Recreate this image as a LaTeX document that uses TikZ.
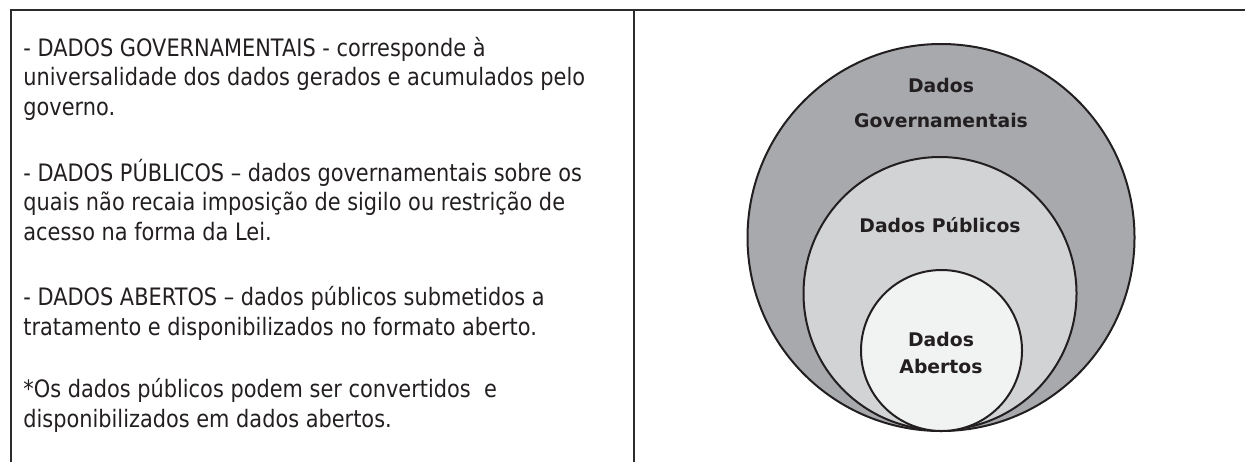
\documentclass[tikz,border=0pt]{standalone}
\usepackage{fontspec}
\setmainfont{DejaVu Sans}[FakeStretch=0.87]
\newfontfamily\setfont{DejaVu Sans}
\definecolor{govgray}{HTML}{A7A9AC}
\definecolor{pubgray}{HTML}{D1D3D4}
\definecolor{abegray}{HTML}{F1F2F2}
\definecolor{rulegray}{HTML}{2B2B2B}
\definecolor{inkgray}{HTML}{231F20}
\tikzset{
  deftext/.style={anchor=base west,align=left,inner sep=0pt,text=inkgray,
    font=\fontsize{12}{14.75}\selectfont},
  setlabel/.style={anchor=base,align=center,inner sep=0pt,text=inkgray,
    font=\setfont\bfseries\fontsize{9.4}{#1}\selectfont},
  setlabel/.default=13.5,
  setcircle/.style={circle,draw=inkgray,line width=1pt,inner sep=0pt},
}
\begin{document}
\begin{tikzpicture}[x=0.5pt,y=-0.5pt]
      \useasboundingbox (0,0) rectangle (1245,462);
%
      % frame
      \draw[rulegray,line width=1.4pt] (10,10) -- (1245,10);
      \draw[rulegray,line width=1.4pt] (11,10) -- (11,462);
      \draw[rulegray,line width=1.4pt] (634,10) -- (634,462);
%
      % definitions (placed by their last baseline)
      \node[deftext] (gdef) at (23,115) {- DADOS GOVERNAMENTAIS - corresponde à\\
      universalidade dos dados gerados e acumulados pelo\\ governo.};
      \node[deftext] (pdef) at (23,240) {- DADOS PÚBLICOS – dados governamentais sobre os\\
      quais não recaia imposição de sigilo ou restrição de\\ acesso na forma da Lei.};
      \node[deftext] (adef) at (23,335) {- DADOS ABERTOS – dados públicos submetidos a\\
      tratamento e disponibilizados no formato aberto.};
      \node[deftext] (nota) at (23,427) {*Os dados públicos podem ser convertidos\ \ e\\
      disponibilizados em dados abertos.};
%
      % nested sets
      \node[setcircle,fill=govgray,minimum size=193.5pt] (gov) at (941,237.5) {};
      \node[setcircle,fill=pubgray,minimum size=136.5pt] (pub) at (940,293.5) {};
      \node[setcircle,fill=abegray,minimum size=80.5pt] (abe) at (941.5,350.5) {};
%
      \node[setlabel=17.5] (govlbl) at (941,127) {Dados\\ Governamentais};
      \node[setlabel] (publbl) at (940,232) {Dados Públicos};
      \node[setlabel] (abelbl) at (941,373) {Dados\\ Abertos};
   \end{tikzpicture}
\end{document}
